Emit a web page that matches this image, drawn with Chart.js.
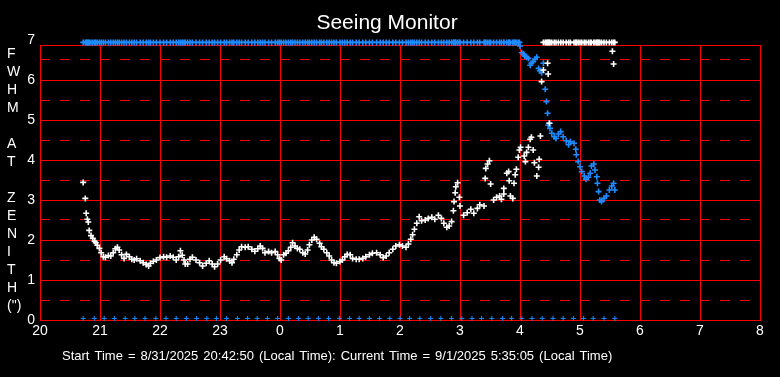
<!DOCTYPE html>
<html><head><meta charset="utf-8">
<script src="https://cdn.jsdelivr.net/npm/chart.js@4/dist/chart.umd.min.js"></script>
<style>html,body{margin:0;padding:0;background:#000;overflow:hidden}canvas{display:block;background:#000}</style>
</head><body>
<canvas id="c" width="780" height="377"></canvas>
<script>
// ---- text ----
const titleText = 'Seeing Monitor';
const yTitleLines = ['F','W','H','M','','A','T','','Z','E','N','I','T','H','(")'];
const footerText = 'Start Time = 8/31/2025 20:42:50 (Local Time): Current Time = 9/1/2025 5:35:05 (Local Time)';

// ---- axes ----
const xTickHours  = [20,21,22,23,24,25,26,27,28,29,30,31,32];
const xTickLabels = ['20','21','22','23','0','1','2','3','4','5','6','7','8'];
const yTickLabels = ['0','1','2','3','4','5','6','7'];
const frameTop = 6.875;

// ---- white series (FWHM, hours since previous midnight) ----
const whiteTimes = [
 20.72,20.755,20.77,20.79,20.805,20.82,20.85,20.88,20.91,20.93,
 20.955,20.99,21.02,21.055,21.09,21.14,21.18,21.22,21.255,21.29,
 21.32,21.36,21.4,21.44,21.49,21.53,21.57,21.61,21.67,21.72,
 21.77,21.81,21.84,21.89,21.94,22.0,22.06,22.11,22.17,22.22,
 22.27,22.31,22.34,22.37,22.4,22.42,22.46,22.5,22.54,22.6,
 22.66,22.71,22.77,22.82,22.87,22.91,22.96,23.01,23.07,23.11,
 23.16,23.2,23.23,23.28,23.32,23.36,23.42,23.47,23.53,23.58,
 23.63,23.67,23.71,23.75,23.81,23.86,23.92,23.96,23.99,24.02,
 24.06,24.1,24.14,24.18,24.21,24.25,24.29,24.33,24.38,24.42,
 24.46,24.49,24.53,24.57,24.61,24.66,24.69,24.73,24.78,24.82,
 24.86,24.9,24.94,25.0,25.04,25.08,25.12,25.17,25.21,25.27,
 25.32,25.38,25.43,25.49,25.54,25.61,25.67,25.72,25.77,25.82,
 25.88,25.93,25.99,26.04,26.1,26.14,26.18,26.21,26.24,26.28,
 26.32,26.36,26.42,26.47,26.53,26.58,26.64,26.69,26.73,26.78,
 26.82,26.86,26.89,26.9,26.92,26.93,26.96,26.99,27.0,27.06,
 27.12,27.18,27.23,27.29,27.33,27.4,27.42,27.43,27.46,27.49,
 27.51,27.56,27.61,27.66,27.69,27.73,27.73,27.78,27.81,27.82,
 27.84,27.88,27.9,27.92,27.94,27.97,27.99,28.01,28.07,28.09,
 28.11,28.14,28.17,28.19,28.22,28.24,28.28,28.31,28.32,28.34,
 28.36,28.39,28.46,28.47,28.49,29.54,29.56
];
const whiteValues = [
 3.44,3.04,2.67,2.52,2.45,2.24,2.11,2.04,1.97,1.93,
 1.87,1.79,1.68,1.58,1.57,1.61,1.6,1.68,1.78,1.82,
 1.75,1.63,1.54,1.64,1.58,1.52,1.5,1.53,1.48,1.43,
 1.39,1.35,1.42,1.47,1.5,1.56,1.58,1.57,1.6,1.57,
 1.5,1.58,1.73,1.62,1.5,1.4,1.4,1.52,1.57,1.5,
 1.43,1.35,1.42,1.48,1.4,1.33,1.4,1.5,1.58,1.53,
 1.48,1.43,1.52,1.63,1.75,1.83,1.82,1.83,1.77,1.72,
 1.78,1.85,1.79,1.68,1.71,1.68,1.71,1.63,1.54,1.5,
 1.63,1.67,1.73,1.82,1.93,1.85,1.79,1.77,1.68,1.65,
 1.75,1.88,2.0,2.07,2.02,1.92,1.83,1.77,1.68,1.6,
 1.5,1.43,1.42,1.46,1.5,1.58,1.64,1.63,1.54,1.52,
 1.52,1.54,1.58,1.63,1.67,1.68,1.63,1.56,1.6,1.68,
 1.77,1.85,1.88,1.85,1.82,1.9,2.02,2.13,2.27,2.42,
 2.58,2.48,2.5,2.54,2.57,2.52,2.62,2.54,2.42,2.32,
 2.35,2.46,2.73,2.96,3.18,3.33,3.43,3.07,2.85,2.62,
 2.68,2.77,2.67,2.79,2.88,2.85,3.54,3.79,3.9,3.98,
 3.4,3.0,3.07,3.1,3.02,3.29,3.15,3.67,3.71,3.48,
 3.1,3.04,3.42,3.63,3.77,4.07,4.25,4.32,4.1,3.96,
 4.19,4.32,4.52,4.57,4.25,3.93,3.6,3.82,4.02,4.6,
 5.96,6.25,6.42,6.15,4.92,6.72,6.4
];

// ---- blue series ----
const blueTimes = [
 28.0,28.03,28.06,28.08,28.11,28.14,28.17,28.19,28.22,28.25,
 28.28,28.31,28.33,28.36,28.39,28.42,28.44,28.46,28.47,28.49,
 28.5,28.53,28.57,28.6,28.64,28.68,28.72,28.77,28.81,28.84,
 28.9,28.93,28.94,28.97,29.0,29.03,29.07,29.1,29.14,29.17,
 29.19,29.23,29.25,29.28,29.29,29.31,29.33,29.36,29.4,29.44,
 29.49,29.53,29.56,29.58
];
const blueValues = [
 6.85,6.68,6.65,6.6,6.57,6.54,6.37,6.42,6.46,6.52,
 6.57,6.29,6.23,6.18,6.42,5.77,5.46,5.17,4.87,4.92,
 4.79,4.67,4.58,4.54,4.65,4.71,4.58,4.48,4.38,4.46,
 4.42,4.27,4.13,3.96,3.83,3.71,3.6,3.52,3.57,3.67,
 3.85,3.9,3.75,3.58,3.42,3.21,3.0,2.96,3.04,3.1,
 3.25,3.35,3.42,3.25
];
// blue markers along the bottom
const floorTimes = [
 20.72,20.905,21.07,21.24,21.42,21.58,21.75,21.93,22.1,22.27,
 22.44,22.61,22.78,22.94,23.11,23.29,23.46,23.62,23.79,23.96,
 24.14,24.31,24.47,24.64,24.81,24.99,25.16,25.32,25.49,25.66,
 25.83,26.0,26.16,26.33,26.51,26.68,26.86,27.03,27.2,27.36,
 27.53,27.71,27.86,28.03,28.2,28.37,28.55,28.72,28.89,29.06,
 29.22,29.4,29.58
];
const capValue = 6.94;    // off-scale markers drawn along the top
const floorValue = 0.04;

const red = '#ff0000';
const white = '#ffffff';
const blue = '#1e8cff';
const fam = '"Liberation Sans", Arial, sans-serif';

const pts = (xs, ys) => xs.map((x, i) => ({x, y: ys[i]}));
const flat = (xs, v) => xs.map(x => ({x, y: v}));

const whiteCapTimes = blueTimes.filter(t => t >= 28.38);
const blueCapTimes = whiteTimes.filter(t => t <= 28.0);

const row = p => Math.round(p - 0.5);

const decor = {
  id: 'decor',
  beforeDatasetsDraw(chart) {
    const {ctx, chartArea, scales: {x, y}} = chart;
    const left = Math.round(chartArea.left), right = Math.round(chartArea.right);
    const top = row(y.getPixelForValue(frameTop));
    const bottom = row(y.getPixelForValue(0));
    ctx.save();
    ctx.fillStyle = red;
    // dashed half-unit lines (10 on, 10 off)
    for (let i = 0; i < yTickLabels.length - 1; i++) {
      const ry = row(y.getPixelForValue(i + 0.5));
      for (let dx = left; dx < right; dx += 20) {
        ctx.fillRect(dx, ry, Math.min(10, right - dx), 1);
      }
    }
    // vertical hour lines and top of frame
    xTickHours.forEach(h => {
      const rx = row(x.getPixelForValue(h));
      ctx.fillRect(rx, top, 1, bottom - top + 1);
    });
    ctx.fillRect(left, top, right - left + 1, 1);
    ctx.restore();
  },
  afterDraw(chart) {
    const ctx = chart.ctx;
    ctx.save();
    ctx.fillStyle = white;
    ctx.textBaseline = 'alphabetic';
    ctx.textAlign = 'center';
    ctx.font = '21px ' + fam;
    ctx.fillText(titleText, 387, 29);
    ctx.textAlign = 'left';
    ctx.font = '14px ' + fam;
    yTitleLines.forEach((s, i) => { if (s) ctx.fillText(s, 7, 58 + i * 18); });
    ctx.font = '13px ' + fam;
    try { ctx.wordSpacing = '1.4px'; } catch (e) {}
    ctx.fillText(footerText, 62, 359.5);
    ctx.restore();
  }
};

new Chart(document.getElementById('c'), {
  type: 'scatter',
  data: {
    datasets: [
      {data: pts(whiteTimes, whiteValues), borderColor: white, backgroundColor: white},
      {data: flat(whiteCapTimes, capValue), borderColor: white, backgroundColor: white},
      {data: pts(blueTimes, blueValues), borderColor: blue, backgroundColor: blue},
      {data: flat(blueCapTimes, capValue), borderColor: blue, backgroundColor: blue},
      {data: flat(floorTimes, floorValue), borderColor: blue, backgroundColor: blue, pointRadius: 2.5, pointBorderWidth: 1}
    ]
  },
  options: {
    responsive: false,
    devicePixelRatio: 1,
    animation: false,
    events: [],
    layout: {padding: {top: 40, right: 20, left: 0, bottom: 0}},
    elements: {point: {pointStyle: 'cross', radius: 3, borderWidth: 1.6}},
    datasets: {scatter: {clip: false}},
    plugins: {legend: {display: false}, tooltip: {enabled: false}, title: {display: false}},
    scales: {
      x: {
        type: 'linear', min: 20, max: 32,
        ticks: {stepSize: 1, color: white, font: {family: fam, size: 14}, padding: 3, maxRotation: 0, autoSkip: false,
          callback: v => { const i = xTickHours.indexOf(v); return i < 0 ? '' : xTickLabels[i]; }},
        grid: {display: false, drawTicks: false},
        border: {display: false},
        afterFit: s => { s.height = 57; }
      },
      y: {
        min: 0, max: 7,
        ticks: {stepSize: 1, color: white, font: {family: fam, size: 14}, padding: 5, autoSkip: false,
          callback: v => yTickLabels[v]},
        grid: {drawTicks: false, lineWidth: 1,
          color: c => (c.tick && c.tick.value === 7) ? 'rgba(0,0,0,0)' : red},
        border: {display: false},
        afterFit: s => { s.width = 40; }
      }
    }
  },
  plugins: [decor]
});
</script>
</body></html>
